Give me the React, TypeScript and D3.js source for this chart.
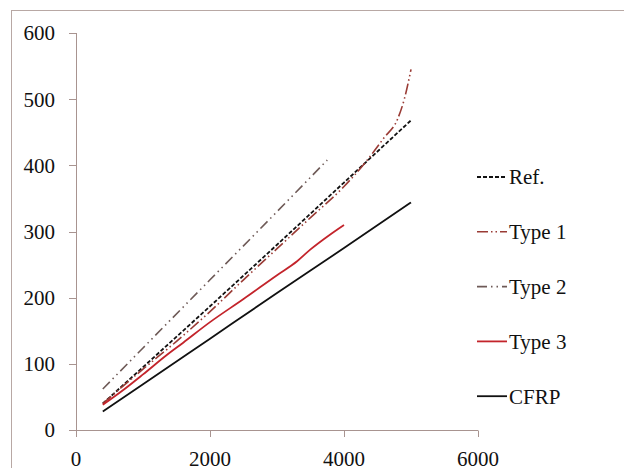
import React from 'react';
import * as d3 from 'd3';

// values
const xTicks = [0, 2000, 4000, 6000];
const yTicks = [0, 100, 200, 300, 400, 500, 600];

const refX = [400, 1000, 2000, 3000, 4000, 5000];
const refY = [40, 95, 187, 280, 374, 468];

const type1X = [400, 1000, 1500, 2000, 2500, 3000, 3500, 4000, 4300, 4600, 4800, 4900, 5000];
const type1Y = [40, 92, 134, 179, 227, 274, 321, 368, 402, 442, 470, 500, 545];

const type2X = [400, 1000, 2000, 3000, 3750];
const type2Y = [62, 124, 227, 330, 408];

const type3X = [400, 700, 1000, 1350, 1600, 2000, 2500, 3000, 3300, 3500, 3800, 4000];
const type3Y = [38, 60, 84, 113, 132, 163, 198, 234, 255, 273, 296, 310];

const cfrpX = [400, 1000, 2000, 3000, 4000, 5000];
const cfrpY = [28, 69, 138, 207, 275, 344];

const seriesNames = ['Ref.', 'Type 1', 'Type 2', 'Type 3', 'CFRP'];

const styles = [
  { color: '#111', width: 1.8, dash: '4,2' },
  { color: '#9a3b35', width: 1.6, dash: '11,3,1.5,3,1.5,3' },
  { color: '#6e5a57', width: 1.6, dash: '10,4,1.5,4,1.5,4' },
  { color: '#c3242b', width: 1.8, dash: null },
  { color: '#111', width: 1.8, dash: null },
];

const font = 'Times New Roman';

export default function App() {
  const x = d3.scaleLinear().domain([0, 6000]).range([76, 478]);
  const y = d3.scaleLinear().domain([0, 600]).range([430, 33]);

  const series = [
    d3.zip(refX, refY),
    d3.zip(type1X, type1Y),
    d3.zip(type2X, type2Y),
    d3.zip(type3X, type3Y),
    d3.zip(cfrpX, cfrpY),
  ];

  const line = d3.line<number[]>()
    .x((d) => x(d[0]))
    .y((d) => y(d[1]))
    .curve(d3.curveMonotoneX);

  const axisColor = '#a89490';

  return (
    <svg width={632} height={476} style={{ display: 'block', margin: -8, background: '#fff' }}>
      <rect x={11.5} y={10.5} width={640} height={480} fill="none" stroke="#b8a8a4" strokeWidth={1} />

      {/* y axis */}
      <line x1={76.5} x2={76.5} y1={y(600)} y2={y(0)} stroke={axisColor} />
      {yTicks.map((t) => (
        <g key={'y' + t}>
          <line x1={69} x2={76.5} y1={Math.round(y(t)) + 0.5} y2={Math.round(y(t)) + 0.5} stroke={axisColor} />
          <text x={55} y={y(t)} dy="0.35em" textAnchor="end"
            fontFamily={font} fontSize={21} fill="#111">{t}</text>
        </g>
      ))}

      {/* x axis */}
      <line x1={76} x2={478} y1={430.5} y2={430.5} stroke={axisColor} />
      {xTicks.map((t) => (
        <g key={'x' + t}>
          <line x1={Math.round(x(t)) + 0.5} x2={Math.round(x(t)) + 0.5} y1={430.5} y2={437} stroke={axisColor} />
          <text x={x(t)} y={466} textAnchor="middle"
            fontFamily={font} fontSize={21} fill="#111">{t}</text>
        </g>
      ))}

      {/* series */}
      {series.map((s, i) => (
        <path key={seriesNames[i]} d={line(s) || ''} fill="none"
          stroke={styles[i].color} strokeWidth={styles[i].width}
          strokeDasharray={styles[i].dash || undefined} />
      ))}

      {/* legend */}
      {seriesNames.map((name, i) => {
        const ly = 177 + i * 54.8;
        return (
          <g key={'leg' + name}>
            <line x1={477} x2={507} y1={ly} y2={ly}
              stroke={styles[i].color} strokeWidth={styles[i].width}
              strokeDasharray={styles[i].dash || undefined} />
            <text x={509} y={ly} dy="0.35em" fontFamily={font} fontSize={21} fill="#111">{name}</text>
          </g>
        );
      })}
    </svg>
  );
}
